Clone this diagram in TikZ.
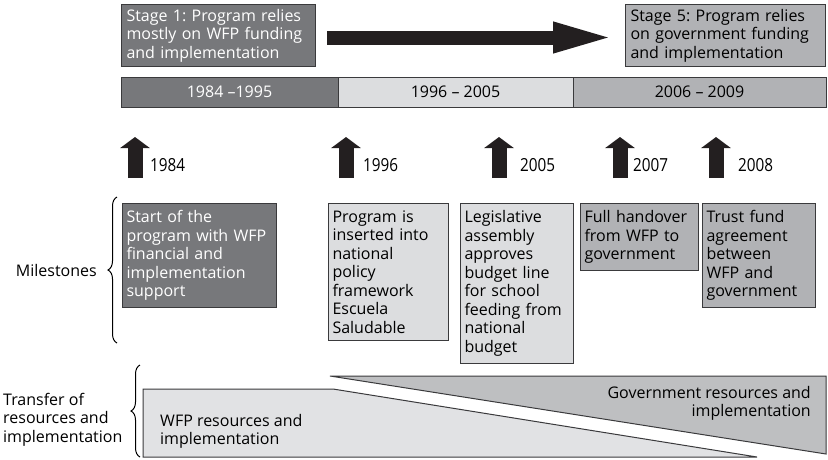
\documentclass[tikz,border=0pt]{standalone}
\usepackage{fontspec}
\setmainfont{Open Sans}
\newfontfamily\yearfont[FakeStretch=0.85]{Open Sans}
\usetikzlibrary{arrows.meta,positioning,decorations.pathreplacing}
\definecolor{stagedark}{RGB}{119,120,123}
\definecolor{stagemid}{RGB}{177,178,181}
\definecolor{stagelight}{RGB}{220,221,223}
\definecolor{govfill}{RGB}{190,191,193}
\definecolor{wfpfill}{RGB}{225,226,228}
\definecolor{edgecol}{RGB}{58,58,60}
\definecolor{arrowcol}{RGB}{35,31,32}
\newcommand{\boxfont}{\fontsize{16}{18.5}\selectfont}
\frenchspacing
\tikzset{
  box/.style={draw=edgecol, line width=1pt, anchor=north west, align=left,
    inner xsep=4pt, inner ysep=7pt, font=\boxfont},
  stagebox/.style={box, inner xsep=5pt, inner ysep=3pt, minimum height=62pt},
  period/.style={draw=edgecol, line width=1pt, anchor=north west,
    minimum height=30pt, inner sep=0pt, outer sep=0pt, font=\boxfont},
  bigarrow/.style={draw=arrowcol, line width=14pt,
    -{Triangle[length=64pt,width=27pt]}},
  yeararrow/.style={draw=arrowcol, line width=15pt,
    -{Triangle[length=11pt,width=29pt]}},
  yearlabel/.style={anchor=base west, inner sep=0pt,
    font=\yearfont\fontsize{18}{20}\selectfont},
  sidelabel/.style={inner sep=0pt, align=left, font=\boxfont},
  bracestyle/.style={decorate, decoration={brace, amplitude=9pt}, line width=1pt},
  band/.style={draw=edgecol, line width=1pt},
}

\begin{document}
\begin{tikzpicture}[x=1pt, y=-1pt]
\useasboundingbox (0,0) rectangle (828,459);
% stages and the long arrow between them
\node[stagebox, fill=stagedark, text=white, text width=184pt] (stage1) at (121,4)
  {Stage 1: Program relies\\mostly on WFP funding\\and implementation};
\node[stagebox, fill=stagemid, text width=190pt] (stage5) at (625,4)
  {Stage 5: Program relies\\on government funding\\and implementation};
\draw[bigarrow] ([xshift=11pt,yshift=-2pt]stage1.east) -- ([xshift=-8pt,yshift=-2pt]stage5.west);
% periods
\node[period, fill=stagedark, text=white, minimum width=217pt] (per1) at (121,77) {1984 –1995};
\node[period, fill=stagelight, minimum width=235pt, right=0pt of per1] (per2) {1996 – 2005};
\node[period, fill=stagemid, minimum width=253pt, right=0pt of per2] (per3) {2006 – 2009};
% year arrows
\foreach \yr/\ax/\lx in {1984/135/150, 1996/346/363, 2005/499/520, 2007/620/633, 2008/716/738} {
  \coordinate (foot\yr) at (\ax,178);
  \coordinate (tip\yr) at (\ax,137);
  \draw[yeararrow] (foot\yr) -- (tip\yr);
  \node[yearlabel] (year\yr) at (\lx,171) {\yr};
}
% milestones
\node[box, fill=stagedark, text=white, text width=146pt] (ms1984) at (122,203)
  {Start of the\\program with WFP\\financial and\\implementation\\support};
\node[box, fill=stagelight, text width=112pt] (ms1996) at (328,203)
  {Program is\\inserted into\\national\\policy\\framework\\Escuela\\Saludable};
\node[box, fill=stagelight, text width=105pt] (ms2005) at (460,203)
  {Legislative\\assembly\\approves\\budget line\\for school\\feeding from\\national\\budget};
\node[box, fill=stagemid, text width=110pt] (ms2007) at (580,203)
  {Full handover\\from WFP to\\government};
\node[box, fill=stagemid, text width=105pt] (ms2008) at (702,203)
  {Trust fund\\agreement\\between\\WFP and\\government};
\coordinate (msbot) at (117,343);
\coordinate (mstop) at (117,197);
\draw[bracestyle] (msbot) -- (mstop);
\node[sidelabel, anchor=base east] (mslabel) at (97,276) {Milestones};
% transfer of resources
\path[band, fill=wfpfill] (143,389) -- (333,389) -- (757,457) -- (143,457) -- cycle;
\path[band, fill=govfill] (330,376) -- (826,376) -- (826,454) -- cycle;
\node[sidelabel, anchor=north west] (wfptext) at (160,414) {WFP resources and\\implementation};
\node[sidelabel, anchor=north east, align=right] (govtext) at (811,386) {Government resources and\\implementation};
\coordinate (trbot) at (140,457);
\coordinate (trtop) at (140,365);
\draw[bracestyle] (trbot) -- (trtop);
\node[sidelabel, anchor=north west] (trlabel) at (3,393) {Transfer of\\resources and\\implementation};
\end{tikzpicture}
\end{document}
